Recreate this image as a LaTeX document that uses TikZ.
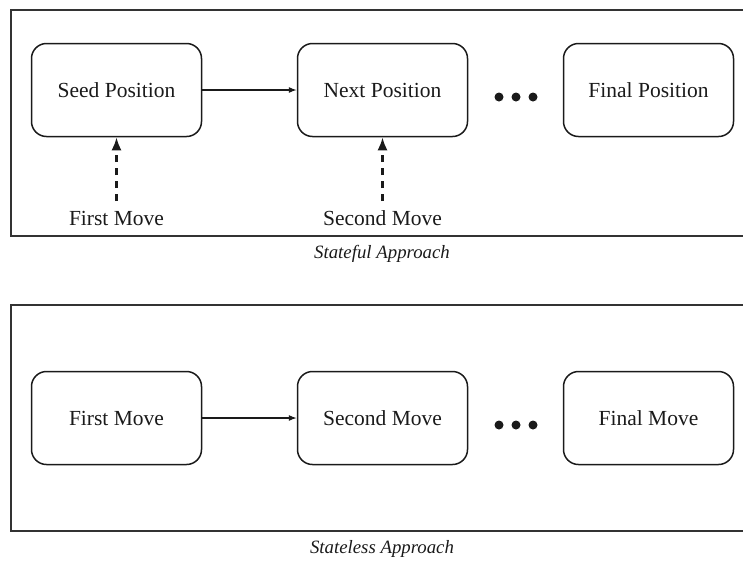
\documentclass[tikz,border=0pt]{standalone}
\usepackage{fontspec}
\setmainfont{Liberation Serif}
\usetikzlibrary{arrows.meta}
\definecolor{framegray}{HTML}{333333}
\definecolor{ink}{HTML}{1A1A1A}
\tikzset{
  panel/.style={draw=framegray, line width=1.4pt},
  stepbox/.style={draw=ink, line width=1.5pt, rounded corners=15pt,
    minimum width=170pt, minimum height=93pt, inner sep=0pt,
    font=\fontsize{21.5}{25}\selectfont, text=ink},
  flow/.style={draw=ink, line width=1.1pt, -{Latex[length=8pt,width=6pt]}},
  feed/.style={draw=ink, line width=2.3pt, dash pattern=on 7pt off 6pt,
    -{Latex[length=13pt,width=10pt]}},
  movelabel/.style={font=\fontsize{21.5}{25}\selectfont, text=ink, inner sep=0pt},
  caption/.style={font=\fontsize{18.8}{22}\selectfont\itshape, text=ink, inner sep=0pt},
  dot/.style={circle, fill=ink, inner sep=0pt, minimum size=9pt},
}
\begin{document}
\begin{tikzpicture}[x=1pt, y=-1pt]
  \useasboundingbox (0,0) rectangle (743,563);

  % frames, open to the right
  \draw[panel] (760,10) -- (11,10) -- (11,236) -- (760,236);
  \draw[panel] (760,305) -- (11,305) -- (11,531) -- (760,531);

  % stateful row
  \node[stepbox] (seed)  at (116.5,90) {Seed Position};
  \node[stepbox] (next)  at (382.5,90) {Next Position};
  \node[stepbox] (final) at (648.5,90) {Final Position};
  \node[dot] (d1) at (499,97) {};
  \node[dot] (d2) at (516,97) {};
  \node[dot] (d3) at (533,97) {};
  \draw[flow] (seed) -- (next);

  \node[movelabel] (m1) at (116.5,218) {First Move};
  \node[movelabel] (m2) at (382.5,218) {Second Move};
  \coordinate (m1top) at (116.5,201);
  \coordinate (m2top) at (382.5,201);
  \draw[feed] (m1top) -- (seed.south);
  \draw[feed] (m2top) -- (next.south);

  \node[caption] (cap1) at (382,254) {Stateful Approach};

  % stateless row
  \node[stepbox] (first)  at (116.5,418) {First Move};
  \node[stepbox] (second) at (382.5,418) {Second Move};
  \node[stepbox] (last)   at (648.5,418) {Final Move};
  \node[dot] (e1) at (499,425) {};
  \node[dot] (e2) at (516,425) {};
  \node[dot] (e3) at (533,425) {};
  \draw[flow] (first) -- (second);

  \node[caption] (cap2) at (382,549) {Stateless Approach};
\end{tikzpicture}
\end{document}
